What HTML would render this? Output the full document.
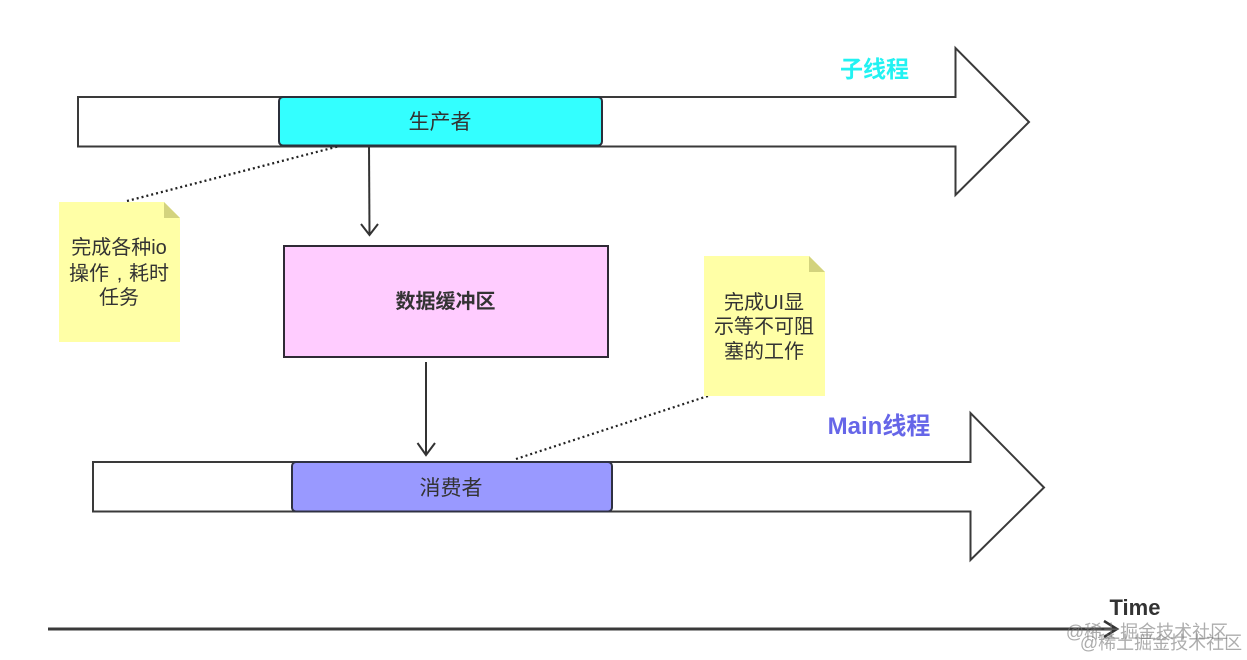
<!DOCTYPE html>
<html>
<head>
<meta charset="utf-8">
<style>
html,body{margin:0;padding:0;background:#fff;width:1247px;height:660px;overflow:hidden}
svg{display:block}
text{font-family:"Liberation Sans","Noto Sans CJK SC",sans-serif;fill:#333;text-anchor:middle}
.b{font-weight:bold}
</style>
</head>
<body>
<svg width="1247" height="660" viewBox="0 0 1247 660" xmlns="http://www.w3.org/2000/svg">
<rect width="1247" height="660" fill="#fff"/>

<!-- big arrows -->
<polygon points="78,97 955.5,97 955.5,48 1029,122 955.5,195 955.5,146.500 78,146.500" fill="#fff" stroke="#3a3a3a" stroke-width="2"/>
<polygon points="93,462 970.500,462 970.500,413 1044,487.500 970.500,560 970.500,511.500 93,511.500" fill="#fff" stroke="#3a3a3a" stroke-width="2"/>

<!-- dotted connectors -->
<line x1="127" y1="201" x2="340" y2="146" stroke="#222" stroke-width="2.200" stroke-dasharray="2 3"/>
<line x1="516" y1="459" x2="708" y2="396" stroke="#222" stroke-width="2.200" stroke-dasharray="2 3"/>

<!-- producer -->
<rect x="279" y="97" width="323" height="48.500" rx="4" fill="#33ffff" stroke="#2b2f3a" stroke-width="2"/>
<text x="440" y="129" font-size="21">生产者</text>

<!-- arrow producer -> buffer -->
<line x1="369" y1="146" x2="369.500" y2="234" stroke="#333" stroke-width="2"/>
<polyline points="361,224 369.500,235 378,224" fill="none" stroke="#333" stroke-width="2"/>

<!-- buffer -->
<rect x="284" y="246" width="324" height="111" fill="#ffccff" stroke="#2f2a35" stroke-width="2"/>
<text x="445.500" y="308" font-size="20" class="b">数据缓冲区</text>

<!-- arrow buffer -> consumer -->
<line x1="426" y1="362" x2="426" y2="455" stroke="#333" stroke-width="2"/>
<polyline points="417.500,443 426,455 435,443" fill="none" stroke="#333" stroke-width="2"/>

<!-- consumer -->
<rect x="292" y="462" width="320" height="49.500" rx="4" fill="#9999ff" stroke="#2f3142" stroke-width="2"/>
<text x="451" y="495" font-size="21">消费者</text>

<!-- note 1 -->
<polygon points="59,202 164,202 180,218 180,342 59,342" fill="#ffffa6"/>
<polygon points="164,202 180,218 164,218" fill="#d3d37e"/>
<text x="119" y="254" font-size="20">完成各种io</text>
<text x="89" y="280" font-size="20">操作</text>
<text x="119.500" y="280" font-size="20" style="font-family:'Liberation Sans',sans-serif">,</text>
<text x="149" y="280" font-size="20">耗时</text>
<text x="119" y="304" font-size="20">任务</text>

<!-- note 2 -->
<polygon points="704,256 809,256 825,272 825,396 704,396" fill="#ffffa6"/>
<polygon points="809,256 825,272 809,272" fill="#d3d37e"/>
<text x="764" y="309" font-size="20">完成UI显</text>
<text x="764" y="333" font-size="20">示等不可阻</text>
<text x="764" y="358" font-size="20">塞的工作</text>

<!-- titles -->
<text x="874.500" y="77" font-size="23" class="b" style="fill:#22f2f2">子线程</text>
<text x="879" y="434" font-size="24" class="b" style="fill:#6666e8">Main线程</text>

<!-- time axis -->
<line x1="48" y1="629" x2="1116" y2="629" stroke="#3a3a3a" stroke-width="3"/>
<polyline points="1104,621 1117,629 1104,637" fill="none" stroke="#333" stroke-width="2.500"/>
<text x="1135" y="615" font-size="22" class="b">Time</text>

<!-- watermarks -->
<text x="1147" y="638" font-size="18" style="fill:#777;opacity:.6">@稀土掘金技术社区</text>
<text x="1161" y="649" font-size="18" style="fill:#777;opacity:.6">@稀土掘金技术社区</text>
</svg>
</body>
</html>
